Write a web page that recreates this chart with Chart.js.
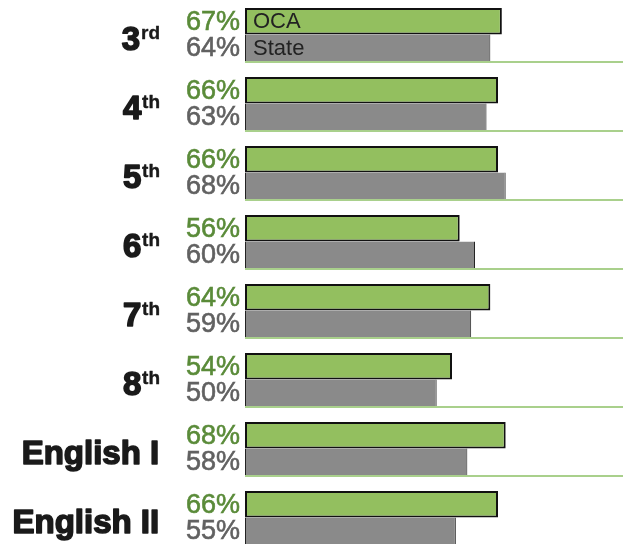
<!DOCTYPE html>
<html>
<head>
<meta charset="utf-8">
<script src="https://cdn.jsdelivr.net/npm/chart.js@4/dist/chart.umd.min.js"></script>
<style>
  html, body { margin: 0; padding: 0; background: #fff; overflow: hidden; }
  #wrap { position: relative; width: 623px; height: 552px; }
</style>
</head>
<body>
<div id="wrap"><canvas id="canvas" width="623" height="552"></canvas></div>
<script>
'use strict';

// grade / course labels, split into main text and superscript
const categories = ['3rd', '4th', '5th', '6th', '7th', '8th', 'English I', 'English II'];
const labelMain = ['3', '4', '5', '6', '7', '8', 'English I', 'English II'];
const labelSup = ['rd', 'th', 'th', 'th', 'th', 'th', '', ''];

const seriesNames = ['OCA', 'State'];
const ocaValues = [67, 66, 66, 56, 64, 54, 68, 66];
const stateValues = [64, 63, 68, 60, 59, 50, 58, 55];

const GREEN = '#93bf5f';
const GREEN_TEXT = '#5a8b39';
const GRAY = '#8a8a8a';
const GRAY_TEXT = '#616161';
const LINE_GREEN = '#a9d08c';

const labelsPlugin = {
  id: 'labels',
  afterDatasetsDraw(chart) {
    const c = chart.ctx;
    const area = chart.chartArea;
    const yScale = chart.scales.y;
    const metaA = chart.getDatasetMeta(0);
    const metaB = chart.getDatasetMeta(1);
    c.save();

    // separator lines under each pair of bars
    c.strokeStyle = LINE_GREEN;
    c.lineWidth = 2;
    metaB.data.forEach((bar) => {
      const y = Math.round(bar.y + bar.height / 2) + 1;
      c.beginPath();
      c.moveTo(area.left, y);
      c.lineTo(area.right, y);
      c.stroke();
    });

    // percent labels left of the bars
    c.textAlign = 'right';
    c.textBaseline = 'middle';
    c.font = '27px "Liberation Sans", Arial, sans-serif';
    c.lineWidth = 0.6;
    metaA.data.forEach((bar, i) => {
      c.fillStyle = GREEN_TEXT;
      c.strokeStyle = GREEN_TEXT;
      c.fillText(ocaValues[i] + '%', 240, bar.y + 1);
      c.strokeText(ocaValues[i] + '%', 240, bar.y + 1);
    });
    metaB.data.forEach((bar, i) => {
      c.fillStyle = GRAY_TEXT;
      c.strokeStyle = GRAY_TEXT;
      c.fillText(stateValues[i] + '%', 240, bar.y + 1);
      c.strokeText(stateValues[i] + '%', 240, bar.y + 1);
    });

    // series names inside the first pair
    c.textAlign = 'left';
    c.fillStyle = '#222';
    c.font = '22px "Liberation Sans", Arial, sans-serif';
    c.fillText(seriesNames[0], 253, metaA.data[0].y + 1);
    c.fillText(seriesNames[1], 253, metaB.data[0].y + 1);

    // category labels with superscripts, thickened with a stroke
    c.textBaseline = 'alphabetic';
    c.fillStyle = '#1a1a1a';
    c.strokeStyle = '#1a1a1a';
    c.lineJoin = 'round';
    categories.forEach((cat, i) => {
      const cy = yScale.getPixelForValue(i);
      const right = 160;
      let x = right;
      if (labelSup[i]) {
        c.font = 'bold 19px "Liberation Sans", Arial, sans-serif';
        const w = c.measureText(labelSup[i]).width;
        c.textAlign = 'left';
        c.lineWidth = 0.4;
        c.fillText(labelSup[i], right - w, cy + 4);
        c.strokeText(labelSup[i], right - w, cy + 4);
        x = right - w;
      }
      c.font = 'bold 33px "Liberation Sans", Arial, sans-serif';
      c.textAlign = 'right';
      c.lineWidth = 1.6;
      c.fillText(labelMain[i], x - 0.8, cy + 15.5);
      c.strokeText(labelMain[i], x - 0.8, cy + 15.5);
    });

    c.restore();
  }
};

const config = {
  type: 'bar',
  data: {
    labels: categories,
    datasets: [
      {
        label: seriesNames[0],
        data: ocaValues,
        backgroundColor: GREEN,
        borderColor: '#111',
        borderWidth: 2,
        borderSkipped: false,
      },
      {
        label: seriesNames[1],
        data: stateValues,
        backgroundColor: GRAY,
        borderColor: '#222',
        borderWidth: { left: 1, right: 1, top: 0, bottom: 0 },
        borderSkipped: false,
      },
    ],
  },
  plugins: [labelsPlugin],
  options: {
    indexAxis: 'y',
    responsive: false,
    animation: false,
    layout: {
      padding: { left: 245, right: 0, top: 0, bottom: 0 },
    },
    datasets: {
      bar: {
        categoryPercentage: 0.768,
        barPercentage: 1,
      },
    },
    scales: {
      x: {
        display: false,
        min: 0,
        max: 98.6,
      },
      y: {
        display: false,
      },
    },
    plugins: {
      legend: { display: false },
      tooltip: { enabled: false },
      title: { display: false },
    },
  },
};

new Chart(document.getElementById('canvas').getContext('2d'), config);
</script>
</body>
</html>
